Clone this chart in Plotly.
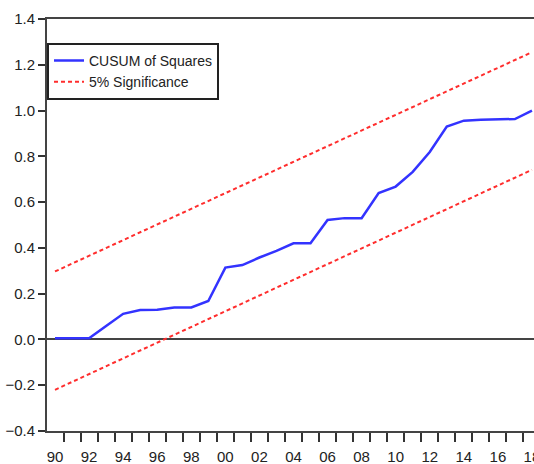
import plotly.graph_objects as go

years = list(range(1990, 2019))
cusum_sq = [0.005, 0.005, 0.005, 0.059, 0.112, 0.129, 0.130, 0.140, 0.140, 0.168,
            0.314, 0.325, 0.358, 0.387, 0.420, 0.420, 0.522, 0.530, 0.530, 0.640,
            0.668, 0.732, 0.819, 0.930, 0.956, 0.960, 0.963, 0.963, 1.000]
band_years = [1990, 2018]
upper_5pct = [0.297, 1.255]
lower_5pct = [-0.220, 0.741]

tick_years = list(range(1990, 2019, 2))
tick_text = [f"{y % 100:02d}" for y in tick_years]
boundary_ticks = [y - 0.5 for y in range(1990, 2020)]

FONT = "Liberation Sans, Arial, sans-serif"
BLUE = "rgb(51,51,255)"
RED = "rgb(255,45,45)"

fig = go.Figure()
fig.add_trace(go.Scatter(x=years, y=cusum_sq, mode="lines", name="CUSUM of Squares",
                         line=dict(color=BLUE, width=2.5)))
fig.add_trace(go.Scatter(x=band_years, y=upper_5pct, mode="lines", name="5% Significance",
                         line=dict(color=RED, width=2, dash="4px,3px")))
fig.add_trace(go.Scatter(x=band_years, y=lower_5pct, mode="lines", name="5% Significance",
                         showlegend=False,
                         line=dict(color=RED, width=2, dash="4px,3px")))

fig.update_layout(
    width=534, height=464,
    margin=dict(l=47, r=0, t=19, b=33),
    plot_bgcolor="white", paper_bgcolor="white",
    font=dict(family=FONT, size=15, color="#222"),
    legend=dict(x=0, y=0.942, xanchor="left", yanchor="top",
                bgcolor="white", bordercolor="#222", borderwidth=2,
                font=dict(family=FONT, size=14, color="#222"),
                itemwidth=30, tracegroupgap=0),
    xaxis=dict(range=[1989.53, 2018.12], showgrid=False, zeroline=False, automargin=False,
               tickmode="array", tickvals=tick_years, ticktext=tick_text,
               ticks="", ticklabelstandoff=11, ticklabeloverflow="allow",
               tickfont=dict(family=FONT, size=15, color="#222"),
               minor=dict(tickmode="array", tickvals=boundary_ticks, ticks="outside",
                          ticklen=9, tickwidth=1.5, tickcolor="#333"),
               showline=True, linecolor="#444", linewidth=2, mirror=True),
    yaxis=dict(range=[-0.4, 1.4], showgrid=False, tickmode="array", automargin=False,
               tickvals=[-0.4, -0.2, 0.0, 0.2, 0.4, 0.6, 0.8, 1.0, 1.2, 1.4],
               tickformat=".1f", ticks="outside", ticklen=7, tickwidth=1.5,
               tickfont=dict(family=FONT, size=15, color="#222"),
               tickcolor="#333", showline=True, linecolor="#444", linewidth=2,
               zeroline=True, zerolinecolor="#444", zerolinewidth=2),
)

fig.write_html("out.html", config={"displayModeBar": False},
               post_script="document.body.style.margin='0px';document.body.style.overflow='hidden';")
